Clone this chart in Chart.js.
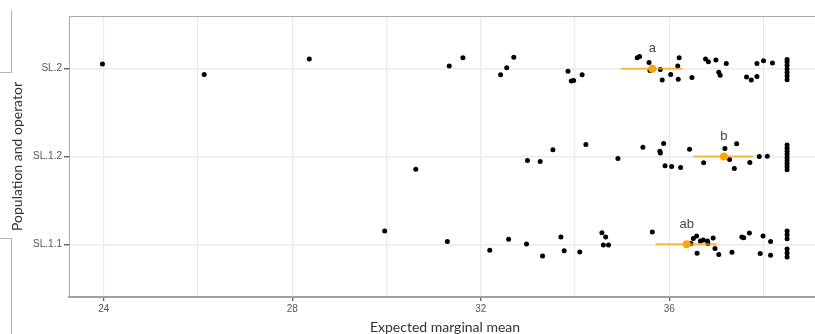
<!DOCTYPE html>
<html>
<head>
<meta charset="utf-8">
<script src="https://cdn.jsdelivr.net/npm/chart.js@4.4.1/dist/chart.umd.min.js"></script>
<style>
  html, body { margin: 0; padding: 0; background: #fff; overflow: hidden; }
  #wrap { position: relative; width: 815px; height: 334px; overflow: hidden; }
  .deco { position: absolute; border-color: #b5b5b5; border-style: solid; border-width: 0; }
</style>
</head>
<body>
<div id="wrap">
  <canvas id="chart" width="830" height="334"></canvas>
  <div class="deco" style="left:0;top:10px;width:11px;height:62px;border-right-width:1px;border-bottom-width:1px;"></div>
  <div class="deco" style="left:0;top:238px;width:11px;height:100px;border-right-width:1px;border-top-width:1px;"></div>
</div>
<script>
const categories = ["SL.1.1", "SL.1.2", "SL.2"];
const xTickLabels = [24, 28, 32, 36];
const xGridValues = [24, 26, 28, 30, 32, 34, 36, 38];

// observations (x = marginal mean, y = category position with jitter)
const sl11X = [29.96, 31.29, 32.19, 32.59, 32.97, 33.31, 33.70, 33.77, 34.10, 34.57, 34.65, 34.60, 34.71,
  35.64, 36.46, 36.51, 36.58, 36.59, 36.66, 36.72, 36.81, 36.82, 36.93, 36.97, 37.05, 37.33, 37.54,
  37.58, 37.70, 37.93, 37.99, 38.15, 38.15, 38.5, 38.5, 38.5, 38.5, 38.5, 38.5];
const sl11Y = [1.151, 1.031, 0.932, 1.057, 1.004, 0.867, 1.083, 0.928, 0.913, 1.133, 1.083, 0.992, 0.992,
  1.14, 1.008, 1.065, 1.095, 0.898, 1.037, 1.049, 1.037, 1.008, 1.072, 0.951, 0.883, 0.909, 1.083,
  1.076, 1.128, 0.894, 1.095, 1.031, 0.875, 1.153, 1.108, 1.063, 0.947, 0.901, 0.856];

const sl12X = [30.62, 32.99, 33.26, 33.53, 34.23, 34.91, 35.44, 35.80, 35.81, 35.88, 35.91, 36.05, 36.24,
  36.43, 36.73, 37.18, 37.28, 37.43, 37.38, 37.71, 37.91, 38.08,
  38.5, 38.5, 38.5, 38.5, 38.5, 38.5, 38.5, 38.5, 38.5];
const sl12Y = [1.856, 1.955, 1.943, 2.076, 2.136, 1.977, 2.106, 2.06, 2.04, 2.148, 1.894, 1.886, 1.875,
  2.083, 1.928, 2.09, 1.966, 2.144, 1.864, 1.932, 2.0, 2.004,
  2.13, 2.095, 2.06, 2.025, 1.99, 1.955, 1.92, 1.885, 1.85];

const sl2X = [23.97, 26.13, 28.36, 31.33, 31.62, 32.42, 32.55, 32.70, 33.85, 33.92, 33.97, 34.15, 35.32,
  35.37, 35.57, 35.59, 35.81, 35.85, 36.03, 36.19, 36.18, 36.21, 36.48, 36.77, 36.83, 36.99, 37.05,
  37.08, 37.21, 37.64, 37.74, 37.86, 37.86, 38.0, 38.19, 38.5, 38.5, 38.5, 38.5, 38.5, 38.5, 38.5];
const sl2Y = [3.053, 2.935, 3.11, 3.03, 3.125, 2.93, 3.01, 3.13, 2.97, 2.86, 2.865, 2.93, 3.125,
  3.14, 3.07, 2.98, 2.99, 2.87, 2.935, 2.88, 3.03, 3.125, 2.90, 3.11, 3.08, 3.10, 2.96,
  2.925, 3.06, 2.905, 2.87, 2.91, 3.06, 3.09, 3.065, 3.106, 3.076, 3.038, 2.997, 2.958, 2.917, 2.875];

// estimated marginal means with intervals and group letters
const meanX = [36.37, 37.16, 35.64];
const meanY = [1, 2, 3];
const ciLow = [35.71, 36.51, 34.97];
const ciHigh = [37.01, 37.79, 36.28];
const letters = ["ab", "b", "a"];

const toPoints = (xs, ys) => xs.map((x, i) => ({ x: x, y: ys[i] }));

const pointSets = [[sl11X, sl11Y], [sl12X, sl12Y], [sl2X, sl2Y]].map(([xs, ys]) => ({
  type: "scatter",
  data: toPoints(xs, ys),
  pointRadius: 2.5,
  pointBackgroundColor: "#000",
  pointBorderWidth: 0,
  order: 3,
}));

const barSets = meanY.map((y, i) => ({
  type: "line",
  data: [{ x: ciLow[i], y: y }, { x: ciHigh[i], y: y }],
  borderColor: "rgba(255,165,0,0.75)",
  borderWidth: 2,
  pointRadius: 0,
  order: 2,
}));

const meanSet = {
  type: "scatter",
  data: toPoints(meanX, meanY),
  pointRadius: 4,
  pointBackgroundColor: "#FFA500",
  pointBorderWidth: 0,
  order: 1,
};

const letterPlugin = {
  id: "letters",
  afterDatasetsDraw(chart) {
    const { ctx, scales } = chart;
    ctx.save();
    ctx.font = "13px 'Liberation Sans', Arial, sans-serif";
    ctx.fillStyle = "#444";
    ctx.textAlign = "center";
    ctx.textBaseline = "middle";
    letters.forEach((t, i) => {
      ctx.fillText(t, scales.x.getPixelForValue(meanX[i]), scales.y.getPixelForValue(meanY[i] + 0.23));
    });
    ctx.restore();
  },
};

const framePlugin = {
  id: "frame",
  afterDraw(chart) {
    const { ctx, chartArea } = chart;
    ctx.save();
    ctx.strokeStyle = "#aaa";
    ctx.lineWidth = 1;
    ctx.beginPath();
    ctx.moveTo(chartArea.left, chartArea.top + 0.5);
    ctx.lineTo(chartArea.right, chartArea.top + 0.5);
    ctx.stroke();
    ctx.restore();
  },
};

new Chart(document.getElementById("chart"), {
  data: { datasets: [meanSet, ...barSets, ...pointSets] },
  options: {
    responsive: false,
    animation: false,
    devicePixelRatio: 1,
    layout: { padding: { left: 0, top: 16, right: 9, bottom: 0 } },
    plugins: { legend: { display: false }, tooltip: { enabled: false } },
    scales: {
      x: {
        type: "linear",
        min: 23.26,
        max: 39.22,
        afterBuildTicks: (scale) => { scale.ticks = xGridValues.map((v) => ({ value: v })); },
        afterFit: (scale) => { scale.height = 37; },
        ticks: {
          autoSkip: false,
          maxRotation: 0,
          padding: 2,
          color: "#555",
          font: { family: "'Liberation Sans', Arial, sans-serif", size: 10 },
          callback: (v) => (xTickLabels.includes(v) ? String(v) : ""),
        },
        grid: {
          color: "#ebebeb",
          lineWidth: 1.3,
          tickLength: 4,
          tickColor: (c) => (c.tick && xTickLabels.includes(c.tick.value) ? "#666" : "rgba(0,0,0,0)"),
        },
        border: { color: "#a0a0a0", width: 2 },
        title: {
          display: true,
          text: "Expected marginal mean",
          color: "#333",
          font: { family: "Lato, sans-serif", size: 14, lineHeight: 1 },
          padding: 0,
        },
      },
      y: {
        type: "linear",
        min: 0.4,
        max: 3.6,
        afterBuildTicks: (scale) => { scale.ticks = meanY.map((v) => ({ value: v })); },
        afterFit: (scale) => { scale.width = 69; },
        ticks: {
          autoSkip: false,
          padding: 2,
          color: "#555",
          font: { family: "'Liberation Sans', Arial, sans-serif", size: 10 },
          callback: (v) => categories[v - 1],
        },
        grid: { color: "#ebebeb", lineWidth: 1.5, tickLength: 5, tickColor: "#666" },
        border: { color: "#aaa", width: 1 },
        title: {
          display: true,
          text: "Population and operator",
          color: "#333",
          font: { family: "Lato, sans-serif", size: 14, lineHeight: 1 },
          padding: { top: 10, bottom: 0 },
        },
      },
    },
  },
  plugins: [letterPlugin, framePlugin],
});
</script>
</body>
</html>
